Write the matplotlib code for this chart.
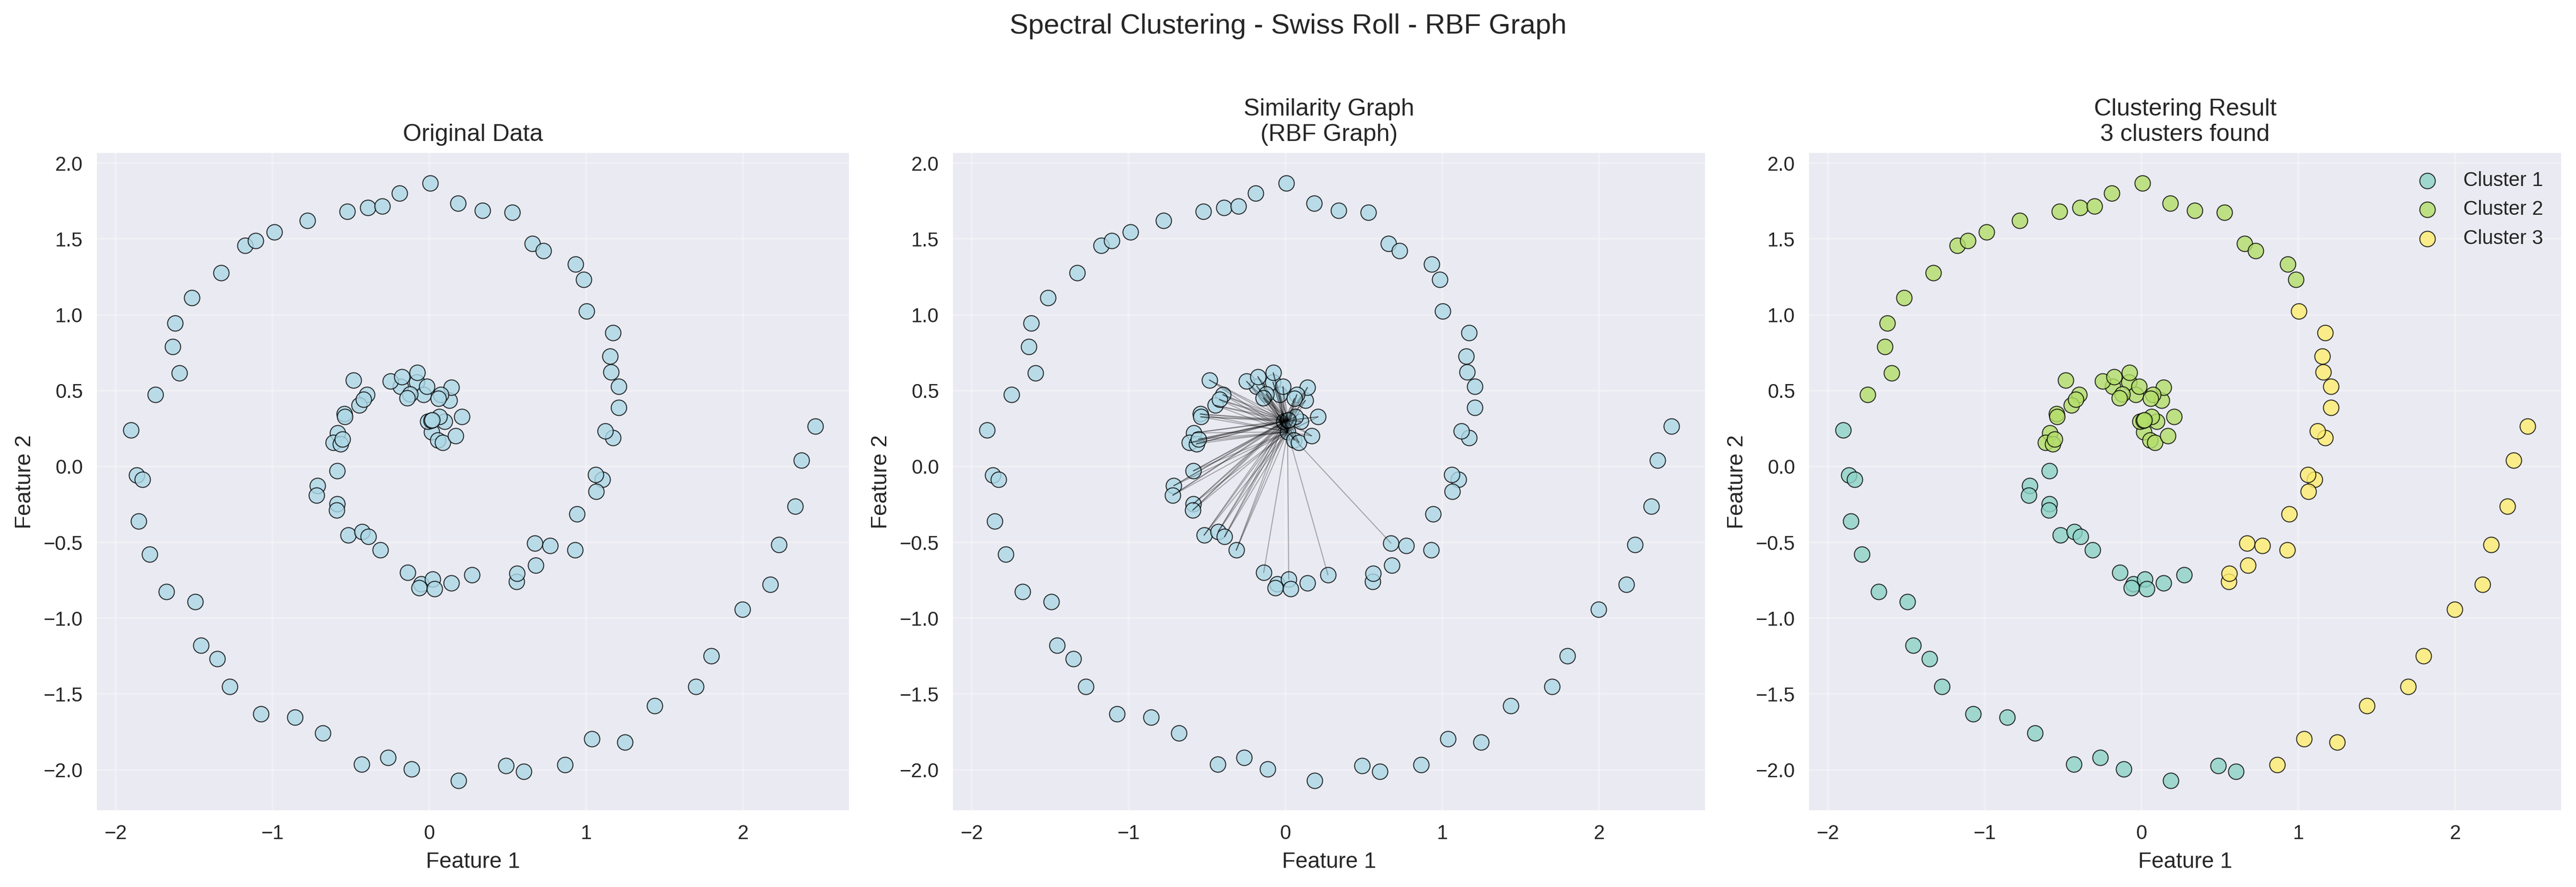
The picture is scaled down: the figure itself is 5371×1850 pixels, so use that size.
import matplotlib
matplotlib.use("Agg")
import matplotlib.pyplot as plt
import numpy as np

plt.style.use('seaborn-v0_8')
plt.rcParams['font.family'] = ['Liberation Sans', 'DejaVu Sans']

# values, per cluster
cluster1_x = [-1.902, -1.865, -1.830, -1.854, -1.785, -1.676, -1.493, -1.456, -1.352, -1.272,
              -1.073, -0.857, -0.679, -0.431, -0.265, -0.115, 0.187, 0.490, 0.601,
              -0.587, -0.712, -0.718, -0.587, -0.591, -0.519, -0.429, -0.388, -0.314,
              -0.139, -0.053, -0.064, 0.021, 0.033, 0.139, 0.271]
cluster1_y = [0.239, -0.058, -0.087, -0.361, -0.579, -0.826, -0.893, -1.179, -1.267, -1.450,
              -1.631, -1.653, -1.757, -1.965, -1.918, -1.994, -2.070, -1.972, -2.012,
              -0.029, -0.127, -0.190, -0.246, -0.288, -0.453, -0.429, -0.463, -0.552,
              -0.700, -0.776, -0.800, -0.744, -0.807, -0.770, -0.715]

cluster2_x = [-1.746, -1.594, -1.637, -1.621, -1.514, -1.327, -1.175, -1.108, -0.987, -0.777,
              -0.525, -0.392, -0.299, -0.191, 0.004, 0.183, 0.338, 0.529, 0.658, 0.727,
              0.931, 0.984,
              -0.485, -0.399, -0.447, -0.421, -0.543, -0.540, -0.584, -0.611, -0.568, -0.555,
              -0.183, -0.248, -0.176, -0.080, -0.078, -0.038, -0.016, -0.123, -0.140,
              0.127, 0.140, 0.072, 0.056, 0.207, 0.096, 0.062,
              0.013, 0.055, 0.086, 0.166, -0.009, 0.012, 0.018]
cluster2_y = [0.473, 0.615, 0.789, 0.944, 1.111, 1.276, 1.456, 1.490, 1.545, 1.621,
              1.681, 1.706, 1.715, 1.803, 1.868, 1.734, 1.687, 1.674, 1.469, 1.421,
              1.335, 1.231,
              0.570, 0.473, 0.403, 0.441, 0.346, 0.327, 0.221, 0.157, 0.149, 0.179,
              0.529, 0.561, 0.592, 0.556, 0.618, 0.473, 0.527, 0.477, 0.452,
              0.435, 0.521, 0.473, 0.447, 0.327, 0.298, 0.327,
              0.228, 0.174, 0.158, 0.202, 0.297, 0.303, 0.306]

cluster3_x = [1.002, 1.170, 1.152, 1.158, 1.208, 1.208, 1.170, 1.120, 1.103, 1.059, 1.063,
              2.462, 2.373, 2.333,
              0.941, 0.673, 0.769, 0.928, 0.678, 0.555, 0.559, 2.230, 2.173, 1.995,
              1.798, 1.700, 1.438, 1.036, 1.247, 0.864]
cluster3_y = [1.023, 0.881, 0.726, 0.621, 0.529, 0.387, 0.189, 0.235, -0.087, -0.055, -0.166,
              0.265, 0.040, -0.263,
              -0.314, -0.506, -0.523, -0.552, -0.652, -0.760, -0.705, -0.516, -0.779, -0.944,
              -1.248, -1.452, -1.578, -1.796, -1.818, -1.967]

cluster_names = ['Cluster 1', 'Cluster 2', 'Cluster 3']
cluster_colors = ['#8dd3c7', '#b3de69', '#ffed6f']
x_ticks = [-2, -1, 0, 1, 2]
y_ticks = [-2.0, -1.5, -1.0, -0.5, 0.0, 0.5, 1.0, 1.5, 2.0]

# points in cluster 2 that the drawn graph edges start from
hub_points = [48, 52, 54]
edge_radius = 0.99

all_x = np.array(cluster1_x + cluster2_x + cluster3_x)
all_y = np.array(cluster1_y + cluster2_y + cluster3_y)

W, H = 5371, 1850
fig = plt.figure(figsize=(W / 300, H / 300), dpi=300)
fig.suptitle('Spectral Clustering - Swiss Roll - RBF Graph', fontsize=14, x=0.5, y=0.985)

lefts = [202, 1987, 3772]
axes = [fig.add_axes([l / W, (H - 1690) / H, 1568 / W, (1690 - 319) / H]) for l in lefts]

scatter_style = dict(s=60, edgecolors='black', linewidth=0.5, alpha=0.8)

# original data
axes[0].scatter(all_x, all_y, c='lightblue', **scatter_style)
axes[0].set_title('Original Data')

# graph
axes[1].scatter(all_x, all_y, c='lightblue', **scatter_style)
offset = len(cluster1_x)
for h in hub_points:
    hx, hy = all_x[offset + h], all_y[offset + h]
    for px, py in zip(all_x, all_y):
        if np.hypot(px - hx, py - hy) < edge_radius:
            axes[1].plot([hx, px], [hy, py], color='black', alpha=0.3, linewidth=0.5)
axes[1].set_title('Similarity Graph\n(RBF Graph)')

# clusters
clusters = [(cluster1_x, cluster1_y), (cluster2_x, cluster2_y), (cluster3_x, cluster3_y)]
for (cx, cy), name, color in zip(clusters, cluster_names, cluster_colors):
    axes[2].scatter(cx, cy, c=color, label=name, **scatter_style)
axes[2].set_title('Clustering Result\n3 clusters found')
axes[2].legend(loc='upper right')

for ax in axes:
    ax.set_xlim(-2.12, 2.675)
    ax.set_ylim(-2.267, 2.067)
    ax.set_xticks(x_ticks)
    ax.set_yticks(y_ticks)
    ax.set_xlabel('Feature 1')
    ax.set_ylabel('Feature 2')
    ax.grid(True, alpha=0.3)

fig.savefig('out.png', dpi=300)
